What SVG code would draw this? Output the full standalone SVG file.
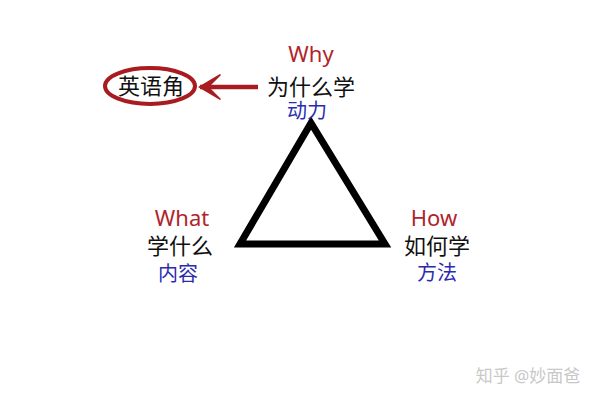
<svg xmlns="http://www.w3.org/2000/svg" width="600" height="400" viewBox="0 0 600 400">
<style>
text{font-family:"Noto Sans","Noto Sans CJK SC",sans-serif;text-anchor:middle}
.en{fill:#b0242a;font-size:22px}
.cn{fill:#111;font-size:22px}
.bl{fill:#2b2bb0;font-size:20px}
</style>
<defs>
<marker id="ah" viewBox="0 0 24 28" refX="22" refY="14" markerWidth="24" markerHeight="28" orient="auto" markerUnits="userSpaceOnUse">
<path d="M2,1 L24,14 L2,27 L1,26 L13,14 L1,2 Z" fill="#a81c20"/>
</marker>
</defs>
<rect width="600" height="400" fill="#fff"/>
<g id="connectors">
<line x1="258" y1="87" x2="200" y2="87" stroke="#a81c20" stroke-width="4.5" marker-end="url(#ah)"/>
</g>
<g id="triangle">
<polygon points="311,123 240,244 385,244" fill="none" stroke="#000" stroke-width="7" stroke-linejoin="miter"/>
</g>
<g id="english-corner">
<ellipse cx="150" cy="86" rx="45" ry="18" fill="none" stroke="#a81c20" stroke-width="4"/>
<text class="cn" x="151" y="94">英语角</text>
</g>
<g id="why">
<text class="en" x="311" y="62">Why</text>
<text class="cn" x="311" y="95">为什么学</text>
<text class="bl" x="307" y="118">动力</text>
</g>
<g id="what">
<text class="en" x="182" y="226">What</text>
<text class="cn" x="180" y="254">学什么</text>
<text class="bl" x="178" y="281">内容</text>
</g>
<g id="how">
<text class="en" x="434" y="226">How</text>
<text class="cn" x="437" y="254">如何学</text>
<text class="bl" x="437" y="280">方法</text>
</g>
<text x="528" y="382" style="fill:#c8c8c8;font-size:17px">知乎 @妙面爸</text>
</svg>
